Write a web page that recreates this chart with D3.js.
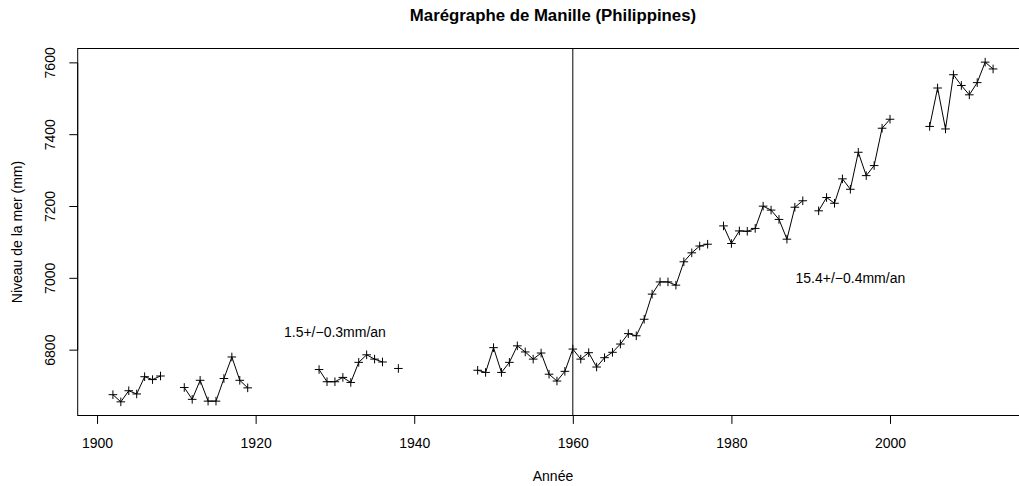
<!DOCTYPE html>
<html>
<head>
<meta charset="utf-8">
<script src="https://cdnjs.cloudflare.com/ajax/libs/d3/7.8.5/d3.min.js"></script>
<style>
  body { margin: 0; background: #fff; }
  svg text { font-family: "Liberation Sans", Arial, Helvetica, sans-serif; fill: #000; }
</style>
</head>
<body>
<div id="chart"></div>
<script>
// annual mean sea level, Manila (null = missing year)
var years = [1902, 1903, 1904, 1905, 1906, 1907, 1908, 1909, 1910, 1911,
    1912, 1913, 1914, 1915, 1916, 1917, 1918, 1919, 1920, 1921,
    1922, 1923, 1924, 1925, 1926, 1927, 1928, 1929, 1930, 1931,
    1932, 1933, 1934, 1935, 1936, 1937, 1938, 1939, 1940, 1941,
    1942, 1943, 1944, 1945, 1946, 1947, 1948, 1949, 1950, 1951,
    1952, 1953, 1954, 1955, 1956, 1957, 1958, 1959, 1960, 1961,
    1962, 1963, 1964, 1965, 1966, 1967, 1968, 1969, 1970, 1971,
    1972, 1973, 1974, 1975, 1976, 1977, 1978, 1979, 1980, 1981,
    1982, 1983, 1984, 1985, 1986, 1987, 1988, 1989, 1990, 1991,
    1992, 1993, 1994, 1995, 1996, 1997, 1998, 1999, 2000, 2001,
    2002, 2003, 2004, 2005, 2006, 2007, 2008, 2009, 2010, 2011,
    2012, 2013];
var levels = [6676, 6656, 6687, 6678, 6726, 6718, 6728, null, null, 6696,
    6663, 6716, 6658, 6658, 6721, 6781, 6716, 6695, null, null,
    null, null, null, null, null, null, 6746, 6712, 6712, 6724,
    6710, 6766, 6787, 6775, 6767, null, 6749, null, null, null,
    null, null, null, null, null, null, 6744, 6738, 6807, 6738,
    6766, 6812, 6795, 6775, 6792, 6733, 6714, 6741, 6803, 6775,
    6793, 6753, 6779, 6794, 6817, 6846, 6840, 6886, 6956, 6990,
    6990, 6981, 7046, 7071, 7090, 7095, null, 7146, 7097, 7132,
    7131, 7139, 7201, 7190, 7164, 7109, 7198, 7216, null, 7188,
    7225, 7209, 7277, 7248, 7351, 7286, 7314, 7418, 7443, null,
    null, null, null, 7423, 7530, 7416, 7567, 7537, 7511, 7545,
    7602, 7583];

var xTicks = [1900, 1920, 1940, 1960, 1980, 2000];
var yTicks = [6800, 7000, 7200, 7400, 7600];
var splitYear = 1960;
var noteYears = [1930, 1995];
var noteLevels = [6850, 7000];
var noteLabels = ["1.5+/\u22120.3mm/an", "15.4+/\u22120.4mm/an"];

function init() {
    drawChart();
}

function drawChart() {

    var w = 1019, h = 486;
    var pLeft = 77.7, pRight = 1028.3, pTop = 48.5, pBottom = 415.5;

    var svg = d3.select("#chart").append("svg")
        .attr("width", w)
        .attr("height", h);

    var x = d3.scaleLinear().domain([1897.56, 2017.44]).range([pLeft, pRight]);
    var y = d3.scaleLinear().domain([6618, 7640]).range([pBottom, pTop]);

    var data = years.map(function (yr, i) { return { year: yr, level: levels[i] }; });
    var notes = noteYears.map(function (yr, i) {
        return { year: yr, level: noteLevels[i], label: noteLabels[i] };
    });

    // plot box
    svg.append("rect")
        .attr("x", pLeft).attr("y", pTop)
        .attr("width", pRight - pLeft).attr("height", pBottom - pTop)
        .attr("fill", "none").attr("stroke", "#000").attr("stroke-width", 1);

    // x axis
    var gx = svg.append("g").attr("transform", "translate(0," + pBottom + ")")
        .call(d3.axisBottom(x).tickValues(xTicks).tickSize(8.4).tickPadding(0).tickFormat(d3.format("d")));
    gx.select(".domain").attr("d", "M" + x(xTicks[0]) + ",0H" + x(xTicks[xTicks.length - 1]));
    gx.selectAll("text").attr("dy", null).attr("y", 32.5)
        .style("font-size", "14px").style("font-family", null);
    gx.selectAll("line, path").attr("stroke", "#000");

    // y axis
    var gy = svg.append("g").attr("transform", "translate(" + pLeft + ",0)")
        .call(d3.axisLeft(y).tickValues(yTicks).tickSize(8.4).tickFormat(d3.format("d")));
    gy.select(".domain").attr("d", "M0," + y(yTicks[0]) + "V" + y(yTicks[yTicks.length - 1]));
    gy.selectAll("line, path").attr("stroke", "#000");
    gy.selectAll(".tick").attr("transform", null);
    gy.selectAll(".tick line").attr("y1", function (d) { return y(d); }).attr("y2", function (d) { return y(d); });
    gy.selectAll("text")
        .attr("x", null).attr("dy", null)
        .attr("text-anchor", "middle")
        .attr("transform", function (d) { return "translate(-22.7," + y(d) + ") rotate(-90)"; })
        .style("font-size", "14px");

    gx.attr("font-family", null);
    gy.attr("font-family", null);
    svg.selectAll(".domain, .tick line").attr("stroke-width", 1);

    // vertical line at 1960
    svg.append("line")
        .attr("x1", x(splitYear)).attr("x2", x(splitYear))
        .attr("y1", pTop).attr("y2", pBottom)
        .attr("stroke", "#000").attr("stroke-width", 1);

    // series line with gaps
    var line = d3.line()
        .defined(function (d) { return d.level !== null; })
        .x(function (d) { return x(d.year); })
        .y(function (d) { return y(d.level); });

    svg.append("path")
        .datum(data)
        .attr("d", line)
        .attr("fill", "none")
        .attr("stroke", "#000")
        .attr("stroke-width", 1);

    // plus markers
    var s = 4.3;
    svg.selectAll(".pt")
        .data(data.filter(function (d) { return d.level !== null; }))
        .enter().append("path")
        .attr("class", "pt")
        .attr("d", function (d) {
            var cx = x(d.year), cy = y(d.level);
            return "M" + (cx - s) + "," + cy + "H" + (cx + s) + "M" + cx + "," + (cy - s) + "V" + (cy + s);
        })
        .attr("stroke", "#000")
        .attr("stroke-width", 1);

    // trend notes
    svg.selectAll(".note")
        .data(notes)
        .enter().append("text")
        .attr("class", "note")
        .attr("x", function (d) { return x(d.year); })
        .attr("y", function (d) { return y(d.level) + 5; })
        .attr("text-anchor", "middle")
        .style("font-size", "14px")
        .text(function (d) { return d.label; });

    // titles
    svg.append("text")
        .attr("x", (pLeft + pRight) / 2).attr("y", 21)
        .attr("text-anchor", "middle")
        .style("font-size", "16.8px").style("font-weight", "bold")
        .text("Marégraphe de Manille (Philippines)");

    svg.append("text")
        .attr("x", (pLeft + pRight) / 2).attr("y", 481)
        .attr("text-anchor", "middle")
        .style("font-size", "14px")
        .text("Année");

    svg.append("text")
        .attr("transform", "translate(22," + ((pTop + pBottom) / 2) + ") rotate(-90)")
        .attr("text-anchor", "middle")
        .style("font-size", "14px")
        .text("Niveau de la mer (mm)");
}

window.onload = init;
</script>
</body>
</html>
